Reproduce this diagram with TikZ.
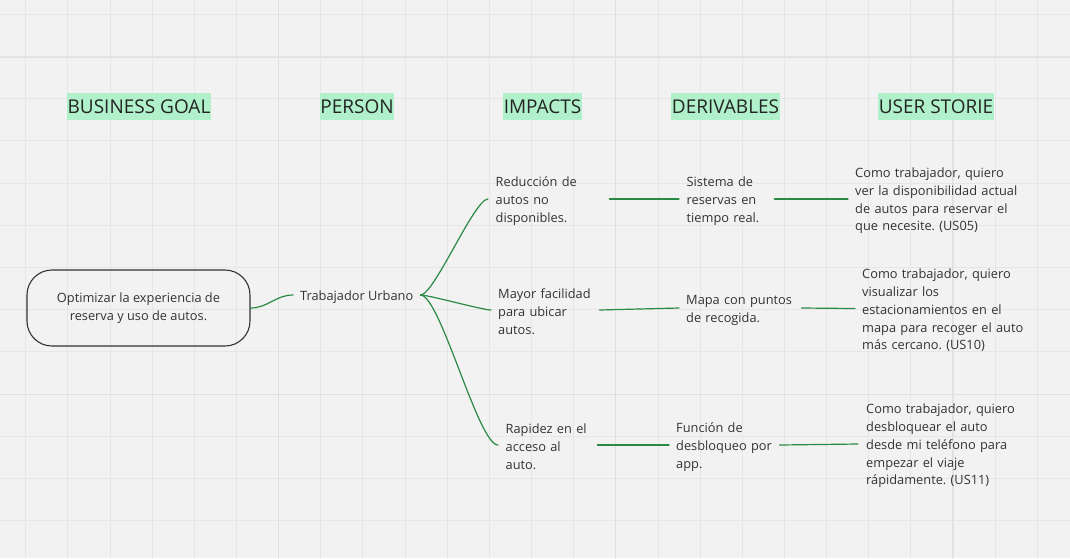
\documentclass[tikz,border=0pt]{standalone}
\usepackage{fontspec}
\setmainfont{Open Sans}

\definecolor{board}{HTML}{F2F2F2}
\definecolor{gridline}{HTML}{E6E6E6}
\definecolor{gridmajor}{HTML}{DFDFDF}
\definecolor{mint}{HTML}{B0F0CA}
\definecolor{linkgreen}{HTML}{2A8A45}
\definecolor{ink}{HTML}{333333}

\tikzset{
  header/.style={fill=mint, text=ink!70!black, font=\fontsize{19}{22}\selectfont,
    inner xsep=0.5pt, inner ysep=6.5pt, text height=14pt, text depth=0pt},
  card/.style={anchor=west, align=left, inner xsep=7.5pt, inner ysep=0pt, text=ink,
    font=\fontsize{12.8}{17.8}\selectfont\frenchspacing,
    execute at begin node={\hyphenpenalty=10000\rule{0pt}{13.6pt}}},
  story/.style={card, text width=175pt},
  goalbox/.style={draw=ink, line width=1.1pt, rounded corners=25pt, align=center,
    minimum width=223pt, minimum height=76pt, text=ink, font=\fontsize{12.8}{17.8}\selectfont},
  branch/.style={draw=linkgreen, line width=1.2pt},
}

\begin{document}
\begin{tikzpicture}[x=1pt, y=-1pt, line cap=round, line join=round]
  % Board and grid
  \fill[board] (0,0) rectangle (1070,558);
  \useasboundingbox (0,0) rectangle (1070,558);
  \foreach \k in {0,...,25}
    \draw[gridline, line width=0.9pt] ({25.7+42.15*\k},0) -- ({25.7+42.15*\k},558);
  \foreach \k in {0,...,13}
    \draw[gridline, line width=0.9pt] (0,{14.3+42.2*\k}) -- (1070,{14.3+42.2*\k});
  \foreach \xm in {278,615,952}
    \draw[gridmajor, line width=1pt] (\xm,0) -- (\xm,558);
  \foreach \ym in {57,394}
    \draw[gridmajor, line width=1pt] (0,\ym) -- (1070,\ym);

  % Column headers
  \node[header] (hgoal) at (139,106.5) {BUSINESS GOAL};
  \node[header] (hperson) at (357,106.5) {PERSON};
  \node[header] (himpacts) at (542.5,106.5) {IMPACTS};
  \node[header] (hderiv) at (725.5,106.5) {DERIVABLES};
  \node[header] (hstory) at (936,106.5) {USER STORIE};

  % Goal and person
  \node[goalbox] (goal) at (138.5,308) {Optimizar la experiencia de\\reserva y uso de autos.};
  \node[card, inner xsep=7pt] (person) at (293,295) {Trabajador Urbano};

  % Impacts
  \node[card, text width=106pt] (imp1) at (488,199) {Reducción de\\autos no\\disponibles.};
  \node[card, inner xsep=7pt, text width=94pt] (imp2) at (491,310) {Mayor facilidad\\para ubicar\\autos.};
  \node[card, text width=84pt] (imp3) at (498,445) {Rapidez en el\\acceso al\\auto.};

  % Derivables
  \node[card, text width=80pt] (der1) at (679,199) {Sistema de\\reservas en\\tiempo real.};
  \node[card, inner xsep=7pt, text width=108pt] (der2) at (679,308) {Mapa con puntos\\de recogida.};
  \node[card, inner xsep=7pt, text width=96pt] (der3) at (669,445) {Función de\\desbloqueo por\\app.};

  % User stories
  \node[story, inner xsep=7pt] (us1) at (848,199)
    {Como trabajador, quiero\\ver la disponibilidad actual\\de autos para reservar el\\que necesite. (US05)};
  \node[story, inner xsep=7pt] (us2) at (855,308.5)
    {Como trabajador, quiero\\visualizar los\\estacionamientos en el\\mapa para recoger el auto\\más cercano. (US10)};
  \node[story, inner xsep=8pt] (us3) at (858,444)
    {Como trabajador, quiero\\desbloquear el auto\\desde mi teléfono para\\empezar el viaje\\rápidamente. (US11)};

  % Connectors
  \draw[branch] (goal.east) to[out=0, in=180] (person.west);
  \foreach \i in {1,2,3}
    \draw[branch] (person.east) to[out=0, in=180, looseness=0.3] (imp\i.west);
  \foreach \i in {1,2,3} {
    \draw[branch] (imp\i.east) -- (der\i.west);
    \draw[branch] (der\i.east) -- (us\i.west);
  }
\end{tikzpicture}
\end{document}
